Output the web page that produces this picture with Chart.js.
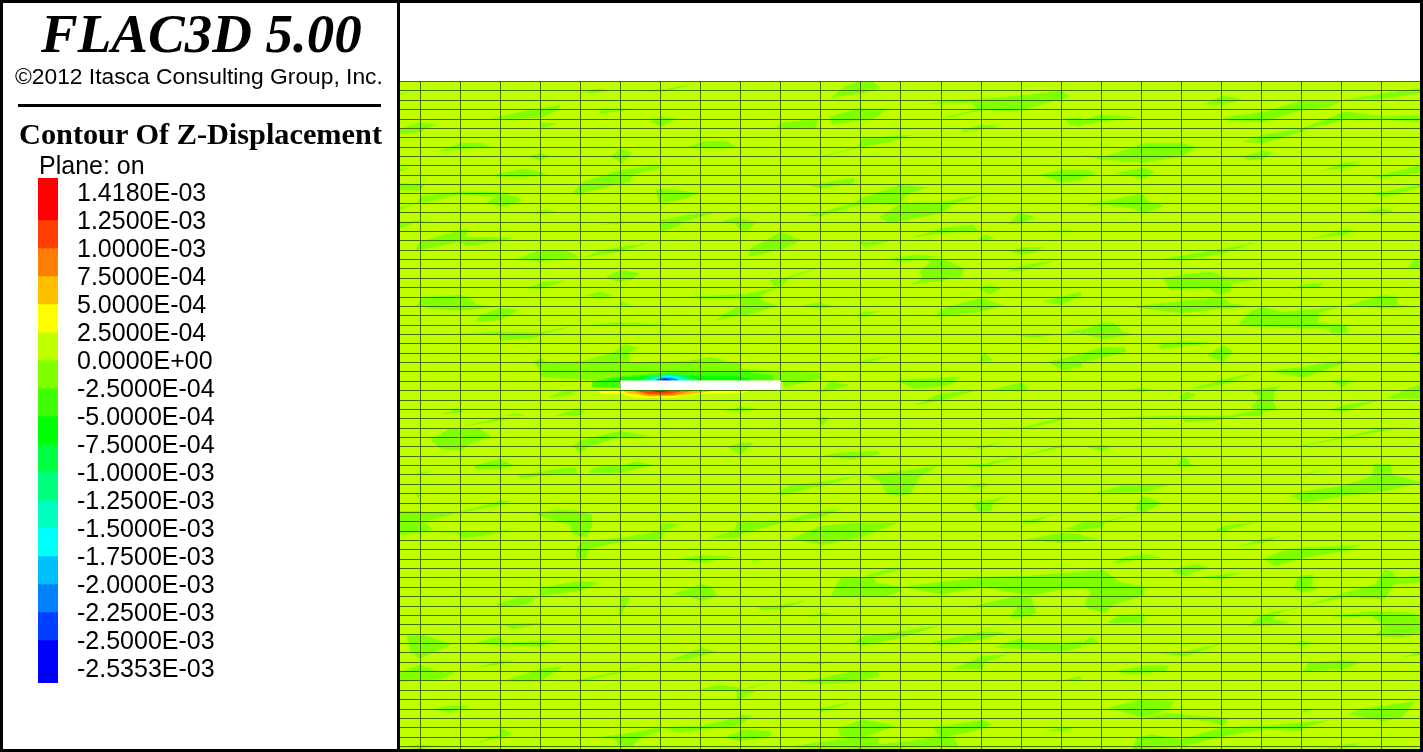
<!DOCTYPE html>
<html>
  <head>
    <meta charset="utf-8">
    <title>FLAC3D 5.00 - Contour Of Z-Displacement</title>
    <script src="https://cdn.jsdelivr.net/npm/chart.js@4"></script>
    <style>
      html, body { margin: 0; padding: 0; background: #fff; overflow: hidden; }
      body { width: 1423px; height: 752px; position: relative; }
      .edge { position: absolute; background: #000; }
      .txt { position: absolute; white-space: nowrap; color: #000; line-height: 1; }
      .serif { font-family: "Liberation Serif", serif; }
      .sans { font-family: "Liberation Sans", sans-serif; }
      #plotBox { position: absolute; left: 400px; top: 81px; width: 1020px; height: 668px; }
      #barBox { position: absolute; left: 38px; top: 144px; width: 200px; height: 573px; }
    </style>
  </head>
  <body>
    <div id="barBox"><canvas id="barChart"></canvas></div>
    <div id="plotBox"><canvas id="plotChart"></canvas></div>

    <div class="txt serif" style="left:41px;top:6px;font-size:55px;font-weight:bold;font-style:italic;">FLAC3D 5.00</div>
    <div class="txt sans" style="left:15px;top:65px;font-size:22.8px;">©2012 Itasca Consulting Group, Inc.</div>
    <div class="edge" style="left:18px;top:104px;width:363px;height:3px;"></div>
    <div class="txt serif" style="left:19px;top:119px;font-size:30.3px;font-weight:bold;">Contour Of Z-Displacement</div>
    <div class="txt sans" style="left:39px;top:153px;font-size:25px;">Plane: on</div>

    <!-- frame round the picture and the divider -->
    <div class="edge" style="left:0;top:0;width:1423px;height:3px;"></div>
    <div class="edge" style="left:0;top:749px;width:1423px;height:3px;"></div>
    <div class="edge" style="left:0;top:0;width:3px;height:752px;"></div>
    <div class="edge" style="left:397px;top:0;width:3px;height:752px;"></div>
    <div class="edge" style="left:1420px;top:0;width:3px;height:752px;"></div>

    <script>
// Legend values, top to bottom
const legendLabels = ["1.4180E-03", "1.2500E-03", "1.0000E-03", "7.5000E-04", "5.0000E-04", "2.5000E-04",
  "0.0000E+00", "-2.5000E-04", "-5.0000E-04", "-7.5000E-04", "-1.0000E-03", "-1.2500E-03", "-1.5000E-03",
  "-1.7500E-03", "-2.0000E-03", "-2.2500E-03", "-2.5000E-03", "-2.5353E-03"];
const legendEdges = [-0.582, 0.918, 1.918, 2.918, 3.918, 4.918, 5.918, 6.918, 7.918, 8.918, 9.918, 10.918, 11.918, 12.918, 13.918, 14.918, 15.918, 17.454];
const legendColors = ["#ff0000", "#ff4000", "#ff8000", "#ffbf00", "#ffff00", "#bfff00", "#80ff00", "#40ff00", "#00ff00",
  "#00ff40", "#00ff80", "#00ffbf", "#00ffff", "#00bfff", "#0080ff", "#0040ff", "#0000ff"];

// Mesh lines (model metres)
const colLines = [5, 15, 25, 35, 45, 55, 65, 75, 85, 95, 105, 115, 125, 135, 145, 155, 165, 175, 185, 195, 205, 215, 225, 235, 245];
const rowLines = [0, 2.34, 4.68, 7.02, 9.36, 11.7, 14.04, 16.38, 18.72, 21.06, 23.4, 25.74, 28.08, 30.42, 32.76, 35.1,
  37.44, 39.78, 42.12, 44.46, 46.8, 49.14, 51.48, 53.82, 56.16, 58.5, 60.84, 63.18, 65.52, 67.86, 70.2, 72.54, 74.88,
  77.22, 79.56, 81.9, 84.24, 86.58, 88.92, 91.26, 93.6, 95.94, 98.28, 100.62, 102.96, 105.3, 107.64, 109.98, 112.32,
  114.66, 117, 119.34, 121.68, 124.02, 126.36, 128.7, 131.04, 133.38, 135.72, 138.06, 140.4, 142.74, 145.08, 147.42,
  149.76, 152.1, 154.44, 156.78, 159.12, 161.46, 163.8, 166.14];

const meshBody = [0,0, 254.5,0, 254.5,166.75, 0,166.75];
const cavity = [55,74.7, 95,74.7, 95,77.05, 55,77.05];

// Contour islands of the -2.5E-04..0 band, each one x,y,x,y...
const bandPatches = [
  [0,3.3, 4,2.4, 0,2.9], [44.6,2.3, 50,1.8, 53.3,2.2, 47.5,3], [58.3,2.2, 65.8,2, 74.2,0.2, 66.7,2.5, 61.7,2.5],
  [22.5,9.2, 30.8,7.5, 40.4,5.8, 39.2,7.1, 35.4,9, 28.3,9.3], [49.6,7.3, 53.3,6.7, 57.9,6.8, 54.2,7.5, 50,8.1],
  [62.1,10, 65.4,8.8, 68.8,9.2, 65.4,11.3], [34.6,10.2, 39.2,10.4, 35.4,11.7], [0,11.7, 5,10.2, 9.2,10.7, 5,12.5, 0,13.1],
  [9.2,17.5, 15,15.4, 20,15.3, 22.5,16.3, 15,16.9], [72.1,16.3, 75.4,15, 81.3,14.8, 83.8,16.3, 77.5,16.7],
  [32.1,18.8, 35,17.9, 37.5,18.5, 35,19.8], [52.5,18.8, 55,16.7, 57.9,17.9, 55.4,20.4], [0,22.5, 2.5,21.5, 0,21.8],
  [21.7,23.6, 30.8,21.8, 35,22.5, 37.1,23.5, 29.2,23.9],
  [42.9,27.9, 45.8,25, 55,22.1, 65.8,20.8, 64.2,21.8, 57.9,23.3, 57.5,25, 50,26.7, 44.2,28.3],
  [0,25.4, 6.3,25.7, 5,27.3, 0,27.1], [4.2,30.4, 5.4,28.5, 15,27.5, 22.5,27.5, 27.5,27.9, 22.9,28.8, 15,28.3, 6.7,30],
  [21.8,30.2, 25,27.9, 29.2,28.8, 30.4,29.8, 25.8,31.3], [63.8,27.1, 65.4,26.7, 75,27.9, 70,29.6, 64.6,30.4],
  [0,31.3, 4.2,30.4, 0,32.1], [32.9,32.8, 36.7,32, 38.8,32.5, 35,33.2], [0,35, 8.3,34.6, 3.3,35.4, 0,36.7],
  [65,34.6, 71.7,33.3, 79.2,32.5, 70.8,35, 70,35.8, 65.4,37.5], [50,35.8, 55,34.8, 65,34.8, 58.3,35.2],
  [80,34.8, 85,33.8, 85,37.1, 83.3,35.4],
  [3.8,42.1, 5,40, 14.2,37.3, 17.1,36.7, 16.3,38.8, 28.8,39, 24.2,40, 16.7,41, 15,40, 5,42.1],
  [29.2,44.2, 35,42.1, 40.8,42.1, 45,43.8, 35,45], [45.4,44.2, 50,42.1, 62.1,40.3, 55,42.5, 50,43.2],
  [51.3,48.8, 55,47.1, 60,47.9, 57.5,49.6, 54.2,50], [31.7,51.7, 35.8,50, 41.3,49.8, 35,51.8],
  [4.2,56, 5.4,53.8, 15,53.3, 17.5,54.2, 19.2,55.7, 24.2,56.3, 15,57.3, 7.5,56.7], [45.8,53.5, 50,52.5, 53.3,53.5, 50,53.8],
  [55,54.6, 57.1,55.8, 55,56], [70.8,53.8, 85,53.1, 85,54.2, 74.2,54.2], [18.8,60, 20,58.3, 25,56.5, 29.6,57.1, 25,59.6],
  [78.3,59.8, 83.3,56.7, 85,56.3, 85,58.3], [47.5,60.7, 55,60.2, 67.5,60.7, 55,61],
  [11.7,63.1, 24.2,62.5, 35,62.7, 44.2,60.8, 35.8,63.1, 33.3,64.2, 25,64.6, 24.6,63.3],
  [37.1,78.8, 40,77.5, 45,76.8, 42.5,78.3, 37.5,79], [10,83, 15,81.8, 16,82.5, 13,83], [25.8,83.5, 29.2,82.9, 31,83.5],
  [38.3,83.5, 44.2,81.8, 46.3,82.5, 44.2,83.5], [80.8,82.5, 85,81.3, 88.8,81.7, 85,82.5],
  // upper middle
  [107.5,4, 110.8,1.3, 114.2,0, 117.9,0, 120,1.7, 115.4,2.9],
  [130.4,5.7, 138.3,4.6, 145.8,4.2, 156.7,3.3, 165,2.3, 167.1,3.8, 160,5.8, 153.3,7.5, 144.2,7.1, 142.5,5.4, 136.7,5.4],
  [135,9, 143.3,7.1, 145,7.1, 138.3,8.8], [107.1,8.8, 114.2,6.7, 121.3,7.1, 118.3,9.2, 107.9,10.8],
  [93.8,11.4, 95.4,10.2, 104.3,9.3, 103.8,11.5, 95,11.8], [140,12.1, 145.4,10.8, 149.6,11.3, 145,12.1, 140.4,12.5],
  [165.8,9.2, 170,9, 170,11.3, 167.1,10.8], [170,9.6, 175,8.3, 184.2,9, 175.8,10, 170,10.8],
  [104.6,18.8, 114.2,16.3, 115.4,14.2, 127.9,13.3, 122.5,15, 114.2,16.5, 105,19],
  [159.6,23.3, 165,22.1, 170,22.1, 170,24.6, 165,25.2], [170,22.1, 171.7,22.1, 173.8,23.1, 170,24],
  [102.1,26, 105.4,25.4, 113.3,24, 113.3,25.4, 105.4,26.7],
  [101.3,33.6, 113.3,30.4, 115.8,28.8, 125,25.8, 131.7,26.5, 126.7,27.9, 125,30.4, 115,30.7, 105.4,33.5],
  [119.6,33.8, 125,30.4, 135,30.2, 147.5,27.7, 138.3,30.4, 135,32.9, 125,34.8, 122.1,35.4],
  [85,34.2, 89.2,35, 86.7,37.1, 85,37.3], [151.7,35.7, 154.6,32.7, 158.3,33.8, 155.4,35.4], [160.4,37.3, 167.5,37.1, 165,37.7],
  [126.7,39.2, 135,36.7, 142.9,35.7, 144.2,37.3, 135,37.9], [144.2,39.3, 146.3,38.2, 148.3,39.2, 145.4,39.8],
  [87.5,41.7, 95,37.5, 100,39.6, 95,42.1, 86.7,43.8], [114.6,40, 122.5,39.8, 115.8,41.4],
  [121.7,44.3, 129.2,43.2, 135,43.8, 125,45], [152.1,42.5, 155.8,41.3, 160.4,41.3, 159.2,42.5, 155,43.2],
  [127.5,50.7, 130.4,49.2, 129.6,47.5, 132.9,44.6, 135.4,44.2, 140.8,46.7, 140,48.8, 135,49.8],
  [151.3,47.5, 155.8,45.8, 164.2,44.6, 155.8,47.1], [92.1,49.6, 95,49.2, 105,46.4, 97.1,49.2, 95,51.3, 93.3,51],
  [85,53.3, 95,51.3, 90,53.3, 90,54.6, 94.2,56, 88.3,57.9, 85,58.6], [144.2,51.5, 147.1,50.8, 150,51.7, 147.1,53.3],
  [100,56, 104.6,55.2, 109.2,56.3, 104.6,56.7], [113.8,58.3, 115.8,57.5, 119.6,57.3, 115.8,58.8],
  [133.3,58.8, 136.3,56.3, 145,54, 150.8,56, 145,57.5], [160.4,54.8, 165,53.8, 170,52.5, 170,53.3, 165,55.8],
  [153.3,63.3, 160,62.9, 165,63.1, 158.3,64], [165.4,62.9, 170,61.8, 170,62.9],
  [170,62.1, 175.4,60.2, 178.3,60.4, 180.4,62.5, 183.3,63.1, 175.8,64.3, 170,63.1],
  [144.6,70, 145.8,67.7, 147.9,69.6], [114.2,70, 122.1,68.5, 116.7,70.2],
  [161.7,70, 165.4,69.2, 170,67.9, 170,71.3, 165.4,72.1], [170,67.9, 175.4,66.3, 180.8,66.4, 181.3,67.5, 175.8,68.8, 170,70.4],
  [123.8,74.6, 131.7,74.2, 140,73.8, 137.1,75.8, 128.3,76.8], [102.1,77.7, 105.4,77.1, 107.1,74.8, 112.1,75.8, 106.7,77.5],
  [147.1,77.1, 155,75.2, 157.1,77.1, 151.7,77.3], [127.9,81, 135,77.9, 144.2,77.1, 135,79.6],
  // upper right
  [200.4,5.7, 205.4,3.5, 210.4,4.6, 205.4,5.7], [235.4,4.6, 245.4,2.9, 255,1.5, 255,2.9, 245.4,4.2],
  [205.4,9, 215.8,7.5, 225.4,4.6, 235.4,4.6, 231.7,6.5, 225,7.1, 215.4,10.2, 206.7,9.8],
  [210,15, 215.4,13.3, 225,11.7, 235.8,7.5, 245.8,8.8, 255,8.3, 255,10.2, 245.8,9.6, 235.8,9.6, 228.3,11.3, 225,12.5, 215.4,15.4],
  [170,18.3, 175.8,18.8, 185.8,15.4, 195,15.4, 198.8,16.3, 195,18.8, 185.8,20.2, 175.8,19.6],
  [210,18.8, 215.4,17.3, 217.9,17.9, 215.4,19.3, 211.7,19.8], [178.3,22.9, 185.4,21.5, 188.3,22.5, 185.8,24.2],
  [229.2,22.5, 235.8,20.3, 239.6,20, 235.8,21.5], [242.5,23.8, 245.4,23.2, 255,20.8, 255,22.7, 245.4,24],
  [241.7,27.9, 245.4,27.5, 255,25.7, 255,26.3, 245.8,28.8],
  [170,31.3, 175.8,30, 185,27.9, 186.7,30, 190.8,31, 185.8,32.9, 182.9,31.7, 175.8,30.8],
  [239.2,32.5, 245.4,31.8, 247.9,32.3, 245.4,33.2], [226.7,39.3, 235.8,37.1, 237.9,37.1, 235.8,38.2],
  [190,44.3, 205.8,41.7, 214.2,40, 205.8,42.9, 195.4,44.6], [251.3,46.3, 253.3,44.6, 255,44.2, 255,47.1],
  [190.4,49.2, 195.4,48.2, 202.5,47.5, 205.8,48.8, 217.5,49, 207.5,50.4, 207.1,52.5, 204.2,53.3, 201.7,51.7, 192.1,52.1],
  [222.1,51.8, 225.8,50.7, 230.4,50.2, 229.6,51.3],
  [182.1,56.3, 195,54.8, 205,53.8, 207.1,55.4, 213.3,56.3, 205,56.8, 195,57.9],
  [235.8,56, 245.4,53.3, 248.8,53.8, 248.8,55.7, 255,56.3, 245.4,56.7],
  [209.2,60.7, 212.5,57.1, 215.4,56.3, 220,57.5, 234.2,56.3, 229.2,57.9, 229.2,60.2, 236.3,60.8, 236.3,62.9, 232.1,62.9, 232.1,61.7, 225,61.7, 215.4,61.3],
  [189.2,65.8, 195.8,64.8, 202.9,65.2, 195.8,66, 190,66.9], [201.3,68.5, 205.4,65.8, 207.9,67.5, 205.4,70], [252.1,67.9, 255,67.3, 255,68.5],
  [197.5,76.7, 205.8,74.3, 214.2,72.5, 205.8,75.4, 199.2,76.8], [216.3,72.3, 225,71.3, 235.8,69.6, 236.7,70, 225.4,74, 221.7,73.3],
  [232.1,74.6, 237.5,74.6, 235.4,76.3], [178.8,77.1, 185.4,76.5, 187.9,77.1, 185.4,77.5], [194.2,79, 196.3,77.5, 198.8,78.3, 195.8,79.6],
  [212.1,77.1, 220,76, 218.3,77.1, 217.9,80, 218.8,81.7, 215.4,82.5, 212.5,81.3, 214.6,78.8], [245.8,79.2, 255,75.4, 255,79.2],
  [231.7,82.1, 235.8,80.8, 244.2,79.6, 235.8,82.3], [206.7,83.5, 213.3,82.1, 215.4,82.1, 215,83.5], [214.2,27.7, 217,27.7, 215,27.9],
  // lower left
  [7.5,89.5, 12.9,86.4, 20,86.8, 22.7,88.5, 17.5,90.6, 15,92.3, 10,91.7], [15.4,86.2, 25,83.9, 31.7,83.8, 24.2,84.8, 16.7,86],
  [42.9,91, 45.4,89.5, 55,87.3, 62.5,88.7, 55,88.9, 47.5,91, 45,92.7], [81.7,91.2, 85,90.2, 88.3,90.3, 85,93.3],
  [18.3,96, 25,94.3, 28.3,95.8, 25,96.8, 19.2,97], [4.2,97.8, 8.3,97.3, 5,98.3], [29.6,98.3, 35,97.5, 43.8,96.2, 44.3,98.1, 35,98.5, 30,99.2],
  [47.1,97.3, 49.2,96.2, 55,96, 59.2,95, 63.3,95.8, 55,97.7, 47.5,97.8], [3.8,103.1, 5,103.1, 4.6,104.2],
  [0,107.3, 5.2,107.3, 5.4,109.8, 8.3,111.8, 5,112.8, 0,113.3], [5.2,107.7, 15,107.5, 25,104.8, 27.9,104.8, 25,105.8, 15,107.7, 5.4,110],
  [5,112.3, 15,112.3, 25,112.3, 29.6,111.4, 25,112.7, 15.4,114.2, 14.6,113],
  [33.8,107.7, 40,107, 45,107.3, 47.9,108.1, 47.9,111.4, 46.3,113.9, 43.3,113.1, 42.1,110.6, 35.8,108.9],
  [43.8,119, 44.2,116.4, 45.4,114.8, 55,114, 65,112.3, 65.4,110.3, 70,110.6, 65.8,112.3, 65.4,114.3, 55,115, 47.1,116.8, 46.3,119.2],
  [70,119.2, 75.4,118.3, 85,118.9, 80,119.3, 75.4,120.3], [76.7,114.2, 83.3,112.3, 84.2,109.8, 85,109.8, 85,113.9],
  [85,109.8, 95,110, 105,107.3, 110,106.8, 105,108.9, 95,110.3, 85,113.1], [35,126.4, 45,124.8, 49.6,125.2, 45,127.3, 35,128.5],
  [67.9,128.1, 75.4,125.6, 77.5,126, 79.2,128.5, 75.4,129.8, 71.7,128.5], [24.2,130.6, 29.2,128.9, 34.2,128.9, 31.7,130.6, 25,131.4],
  [55,128.9, 57.3,128.9, 56.7,130.6, 55,133.3, 54.6,133.3], [25,135.6, 35,135.2, 36.3,135.3, 28.3,136.8],
  [1.7,138.5, 5.4,138.1, 12.9,140.6, 5,144.2, 2.5,142.3], [18.8,140.2, 25,138.5, 25.8,140.2, 39.2,139.5, 35,141.2, 25,140.8],
  [66.7,144.8, 75.4,141.4, 78.8,142.5, 71.7,144.3], [17.9,146.7, 25,144.8, 29.2,144.3, 25,145.6],
  [0,147.7, 5,145.6, 9.2,147.3, 13.8,147.5, 10.4,149.3, 0,150], [25.4,149.8, 35,146.8, 40.8,146, 35,149.8, 27.5,150],
  [37.9,149.8, 45,149.3, 55,147.3, 63.3,145.2, 55,147.7, 45,150], [72.1,152.5, 79.2,150.8, 85,151.4, 85,154.3, 84,154.3, 84,152.2, 75.4,152],
  [85,151.8, 88.8,152.3, 85,154.3], [85,151.8, 93.3,149.8, 88.3,151.4], [7.9,156.8, 12.5,156, 17.5,156, 12.5,157.7],
  [17.5,165.6, 25,163.1, 25.4,161.4, 27.9,163.1, 25,163.9], [50,163.7, 55,163.1, 65,161.4, 65,162.3, 60,163.9, 58.3,166, 55,166.4, 53.3,163.9],
  [65,161.4, 75.4,161, 85,158.5, 85,161, 75.4,161.8, 70,162.7], [81.3,163.7, 85,162.3, 85,164.8, 82.5,164.3],
  [85,161.8, 92.5,162.3, 92.5,163.5, 85,164.8], [0,166.4, 5,165.6, 10.8,166, 5,166.6],
  // lower middle
  [103.8,83.9, 107.1,83.9, 105.4,86], [148.3,86.4, 155,86.4, 165,83.9, 168.3,83.9, 155.8,86.8],
  [105,93.5, 110,92.7, 119.2,92.3, 119.6,93.1, 112.5,94.5], [142.1,91.7, 145.4,91, 150.8,90, 145.4,91.7],
  [139.2,95.8, 145,95.6, 155,93.5, 165,90.8, 170,91, 165,91.4, 155.8,93.5, 145,96.4], [94.2,102.8, 97.5,100.8, 105.4,100, 115,98.3, 105.4,101, 95,103.3],
  [116.7,98.3, 125.4,97.3, 134.2,96, 129.6,98.9, 127.5,102.8, 125,103.5, 121.7,103.1, 119.6,99.8], [141.7,101.2, 145.4,100.2, 147.1,100.6, 145.4,101.4],
  [142.9,105.3, 148.3,104.3, 151.3,103.7, 147.9,105.3, 147.5,107.3, 144.2,107.5], [97.5,114.3, 105,111, 115,110.2, 124.2,110.2, 115,113.9, 105.8,115.8],
  [153.8,110, 158.3,109.3, 162.9,108.1, 158.3,110.2, 155,110.2], [166.3,111.8, 170,110.2, 170,112.3],
  [155.8,114.5, 165,112.7, 170,113.1, 170,115, 165,115.2], [170,113.5, 174.2,114.3, 170,114.5], [85,119.3, 93.3,119.3, 88.3,119.8],
  [107.5,128.5, 110,123.9, 117.9,123.8, 118.8,125.3, 125,126.2, 125,127.3, 121.7,128.5], [115.8,123.5, 122.1,121.8, 135,121.4, 125.8,121.8, 117.9,123.8],
  [125,126.2, 135,125, 145.4,123.8, 155.8,123.5, 170,122.5, 170,126.8, 165.4,126.8, 158.3,128.3, 155,128.1, 145.4,126.4, 135,128.1],
  [141.3,131.4, 154.2,128.5, 157.5,128.9, 158.8,132.7, 155,133.9, 152.1,133.9, 154.2,131], [89.2,131.2, 95.4,130.8, 102.5,129.3, 95.4,131.7, 90,132],
  [101.7,133.9, 105.4,132.7, 107.9,132.8, 105,133.5], [113.3,140.2, 115.8,138.5, 125.4,137.3, 134.6,135.8, 125.4,138.9, 115,141],
  [132.5,140.2, 145.4,137.3, 151.3,137.7, 145.4,139.3, 135,140.8], [148.3,141.4, 155,138.9, 155.8,140.2, 165,140.2, 170,139.8, 170,141.4, 165,142.3, 155.8,141.8],
  [137.9,146.7, 145.4,143.5, 151.7,143.1, 145.8,145.2, 145.4,146.8], [97.5,145.2, 107.9,144.8, 105,145.6], [85,144.8, 90,145.2, 85,145.3],
  [97.9,149.8, 105.4,148.9, 113.3,147.3, 119.2,147.5, 119.6,148.5, 113.3,150.2, 105.4,150.6], [162.1,150.2, 170,148.5, 170,149.3],
  [103.8,156.8, 113.3,154.8, 105.4,157.5], [122.1,157.3, 127.1,156.7, 125,157.3], [85,158.1, 87.9,158.5, 85,160.6],
  [109.2,161.8, 115.4,159.3, 123.8,161, 115.4,163.9, 110,163.5], [132.9,161.4, 145.4,159.5, 147.9,160.6, 143.3,162.3, 135,163.9],
  [95.8,166.4, 115,163.5, 119.6,163.9, 119.2,165.6, 126.7,164.8, 135,163.5, 138.3,163.9, 139.2,166, 116.7,166.7],
  [160.4,162.3, 165.4,161.4, 168.3,161.4, 165.4,162.3],
  // lower right
  [177.9,84.3, 195,83.9, 195.8,85.2, 205.8,84.5, 210,83.5, 195,83.5, 180,83.8], [170,91, 175,90.8, 177.9,91, 175.4,92.3],
  [193.8,95.8, 195.7,93.5, 197.5,95.8, 203.3,95.8, 196.7,96.2], [223.3,91.2, 236.7,88.5, 245.4,86.4, 252.1,86.4, 245.4,87.3, 236.7,88.9, 225.8,91],
  [224.6,98.1, 231.7,96.7, 225.8,98.3], [222.1,103.5, 225.8,102.3, 235.4,101, 242.5,98.5, 242.9,95.6, 247.1,95.6, 247.5,98.1, 255,100.2, 245.8,102.3, 235.8,103.5, 225.8,105.2],
  [173.8,102.8, 180,101, 192.5,100.6, 185.8,102.5], [183.3,106.8, 185.4,103.5, 190,105.3, 185.8,107.7], [170,109.8, 175.8,109.8, 185,107.7, 175.8,110.2, 175,111.4, 170,112],
  [202.9,112.3, 205.8,111, 213.8,110, 205.8,112.3], [208.3,116.2, 215.4,114.3, 220,113.5, 215.4,115.3],
  [215.4,119.3, 220,117.3, 225.8,116.4, 240,115.8, 235.8,117.3, 225.8,118.9, 218.3,121], [177.1,120.6, 180.4,118.9, 185.8,118.1, 190,118.9, 185.4,119.3],
  [192.5,122.3, 195.8,121, 198.8,120.6, 201.7,121.4, 195.8,123.5], [200,123.7, 210,122.7, 205,124.2],
  [170,122.3, 175.4,122, 180,125.2, 185.8,126.2, 185.4,128.5, 178.3,130.6, 175.8,132.7, 171.7,131.8, 170.8,130.2, 172.5,127.3, 170,126.4],
  [222.9,126.7, 224.2,123.5, 227.9,123.1, 227.5,126, 229.2,126.7, 225.4,127.7],
  [225,131.2, 235.8,127.7, 243.3,125.6, 245.8,121.8, 247.9,122.7, 248.3,123.9, 255,123.5, 255,125.2, 247.9,125.6, 245.8,129.2, 235.8,128.9, 225.8,131],
  [211.7,136, 215.4,133.1, 225,131.2, 218.3,133.1, 217.9,134.3, 222.1,135.3, 215.4,136], [176.7,135.3, 179.2,133.3, 185.8,133.1, 185.4,135.2],
  [232.1,133.9, 235.8,133.1, 243.3,132.3, 252.5,132.7, 255,133.5, 255,137.7, 250,138.9, 243.3,138.5, 245.4,136, 242.5,133.5],
  [170,140.2, 172.5,138.7, 174.2,140.2, 170,140.8], [221.7,140.6, 225.4,139.8, 227.9,140.2, 225.4,140.8], [189.6,142.8, 195.8,142.3, 205.8,140.2, 195.8,143.7],
  [249.6,143.9, 255,142.3, 255,143.3], [225.4,147.3, 226.7,145.2, 235.4,144.5, 240,145, 235.4,146.8], [177.9,147.3, 185.8,146, 191.8,146, 190.8,147.3, 182.5,148.1],
  [176.7,156.4, 185.4,154.3, 193.3,154.8, 191.7,156.8, 185.4,158.9], [185.8,158.9, 191.7,157.7, 195.4,158.1, 205.8,158.9, 206.7,158.9, 205.4,161, 201.7,159.8, 195.4,159.3],
  [225.4,156.8, 228.3,156.8, 225.4,157.8], [236.7,158.1, 239.2,156.8, 253.3,154.8, 250,158.9, 245.4,159.8],
  [182.5,166.8, 183.8,163.9, 187.5,163.1, 195,164.3, 205,161.4, 215.4,161, 232.5,159.5, 225.4,161.4, 225,162.3, 215.4,161.8, 205.8,163.5, 197.5,165.6, 193.3,166.4],
  [230,166.8, 235.8,165.6, 240.8,165.2, 235.8,166.4]
];

// Nested contours round the cavity, outermost first: [colour, outline]
const cavityColors = ["#80ff00", "#40ff00", "#00ff00", "#00ff80", "#00ffff", "#0080ff", "#0000ff",
  "#ffff00", "#ffbf00", "#ff8000", "#ff4000", "#ff0000"];
const cavityContours = [
  [33.3,70, 35.4,69.2, 36.7,70.2, 45.4,69.8, 53.3,67.7, 55.8,65.7, 59.8,66.5, 57.1,67.7, 57.5,70.2, 71.7,69.8, 77.5,68.8, 80.8,69.6, 85,70.5, 85,71.7, 95,72.3, 105,72.7, 105.4,74.2, 95.8,76.3, 95.4,74.6, 85,74.6, 48.3,74.6, 35,73.8, 34.6,71.7],
  [48,76.3, 48,75, 53.3,73.8, 63.3,72.9, 70.8,72.5, 85,72.3, 93,73.5, 93,74.6, 55,74.6, 55,76.5, 50,76.5],
  [51,74.9, 55,74, 60,73.6, 70,73.5, 85,73.6, 88,74.7, 55,74.7],
  [59,74.7, 63,73.5, 66.5,73, 70,73.3, 75,74.7],
  [61.7,74.7, 64.2,73.8, 66.7,73.3, 69.6,73.8, 72.5,74.7],
  [63.3,74.7, 65.4,73.9, 67.9,74, 70,74.7],
  [64.6,74.7, 66.3,74.2, 67.9,74.7],
  [49.7,77.5, 52,77, 88,77, 85.5,77.8, 75,78, 68,79, 58,79, 55,78, 50,78.2],
  [55,77, 80,77, 70,78.5, 62,78.7, 57,77.8],
  [57,77, 74,77, 68,78.4, 62,78.4],
  [58.5,77, 72,77, 66.5,78.1, 62,78],
  [61,77, 69,77, 65,77.7]
];

// flat x,y list to points
function toPoints(flat) {
  const pts = [];
  for (let i = 0; i < flat.length; i += 2) {
    pts.push({ x: flat[i], y: flat[i + 1] });
  }
  return pts;
}

function shapeDataset(flat, color) {
  return {
    data: toPoints(flat),
    showLine: true,
    fill: 'shape',
    backgroundColor: color,
    borderWidth: 0,
    borderColor: 'transparent',
    pointRadius: 0,
    tension: 0
  };
}

// Bottom layer first, then reversed because Chart.js paints dataset 0 on top
const layers = [shapeDataset(meshBody, legendColors[5])];
bandPatches.forEach(function (p) { layers.push(shapeDataset(p, legendColors[6])); });
cavityContours.forEach(function (p, i) { layers.push(shapeDataset(p, cavityColors[i])); });
layers.reverse();

// Cavity goes over the mesh lines, so it has to come after the grid layer
const cavityPlugin = {
  id: 'cavity',
  afterDraw: function (chart) {
    const x = chart.scales.x, y = chart.scales.y, ctx = chart.ctx;
    const pts = toPoints(cavity);
    ctx.save();
    ctx.fillStyle = '#ffffff';
    ctx.beginPath();
    pts.forEach(function (p, i) {
      const px = x.getPixelForValue(p.x), py = y.getPixelForValue(p.y);
      if (i === 0) { ctx.moveTo(px, py); } else { ctx.lineTo(px, py); }
    });
    ctx.closePath();
    ctx.fill();
    ctx.restore();
  }
};

const meshColor = '#3f7000';

new Chart(document.getElementById('plotChart'), {
  type: 'scatter',
  data: { datasets: layers },
  plugins: [cavityPlugin],
  options: {
    responsive: true,
    maintainAspectRatio: false,
    animation: false,
    events: [],
    layout: { padding: { top: 0.6, left: 0, right: 0, bottom: 0 } },
    plugins: { legend: { display: false }, tooltip: { enabled: false }, title: { display: false } },
    scales: {
      x: {
        type: 'linear', min: 0, max: 254.5,
        border: { display: false },
        grid: { color: meshColor, lineWidth: 1, z: 1, drawTicks: false },
        ticks: { display: false, autoSkip: false },
        afterBuildTicks: function (axis) { axis.ticks = colLines.map(function (v) { return { value: v }; }); }
      },
      y: {
        type: 'linear', min: 0, max: 166.75, reverse: true,
        border: { display: false },
        grid: { color: meshColor, lineWidth: 1, z: 1, drawTicks: false },
        ticks: { display: false, autoSkip: false },
        afterBuildTicks: function (axis) { axis.ticks = rowLines.map(function (v) { return { value: v }; }); }
      }
    }
  }
});

// Colour bar: floating bars between the legend edges, labels are the axis ticks
const barSets = legendColors.map(function (c, i) {
  return { data: [[legendEdges[i], legendEdges[i + 1]]], backgroundColor: c, borderWidth: 0, barPercentage: 1, categoryPercentage: 1 };
});

new Chart(document.getElementById('barChart'), {
  type: 'bar',
  data: { labels: [''], datasets: barSets },
  options: {
    responsive: true,
    maintainAspectRatio: false,
    animation: false,
    events: [],
    layout: { padding: 0 },
    plugins: { legend: { display: false }, tooltip: { enabled: false } },
    scales: {
      x: { stacked: true, display: false },
      y: {
        type: 'linear', position: 'right', reverse: true, min: -0.582, max: 17.454,
        border: { display: false },
        grid: { display: false, drawTicks: false },
        ticks: {
          autoSkip: false,
          padding: 19,
          color: '#000',
          font: { family: 'Liberation Sans', size: 25 },
          callback: function (v) { return legendLabels[v]; }
        },
        afterBuildTicks: function (axis) { axis.ticks = legendLabels.map(function (l, i) { return { value: i }; }); },
        afterFit: function (axis) { axis.width = 180; }
      }
    }
  }
});
    </script>
  </body>
</html>
